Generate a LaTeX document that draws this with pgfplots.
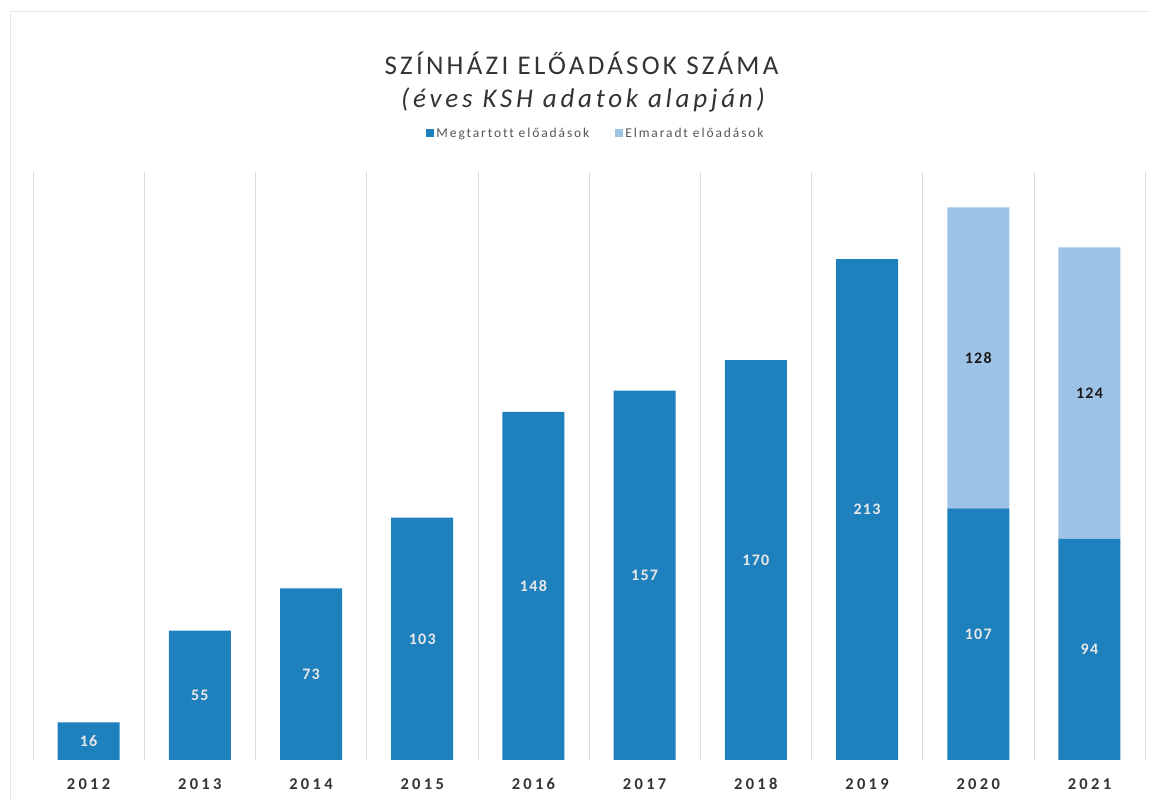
\documentclass[border=0pt]{standalone}
\usepackage{pgfplots}
\pgfplotsset{compat=1.18}
\usepackage{pgfplotstable}
\usepackage{fontspec}
\setmainfont{Carlito}
\newfontfamily\yearfont[LetterSpace=20]{Carlito}
\newfontfamily\titlefont[LetterSpace=12,Ligatures=NoCommon]{Carlito}
\newfontfamily\subfont[LetterSpace=14,Ligatures=NoCommon]{Carlito}
\newfontfamily\legfont[LetterSpace=14,Ligatures=NoCommon]{Carlito}
\newfontfamily\labfont[LetterSpace=8]{Carlito}
\definecolor{darkbar}{HTML}{1F80BE}
\definecolor{lightbar}{HTML}{9DC3E6}
\definecolor{txt}{HTML}{333333}
\definecolor{legtxt}{HTML}{555555}
\definecolor{labw}{HTML}{E8E8E8}

\pgfplotstableread{
x dark light darklab lightlab
0 16 0 16 {}
1 55 0 55 {}
2 73 0 73 {}
3 103 0 103 {}
4 148 0 148 {}
5 157 0 157 {}
6 170 0 170 {}
7 213 0 213 {}
8 107 128 107 128
9 94 124 94 124
}\data

\begin{document}
\begin{tikzpicture}
\useasboundingbox (-33pt,-40pt) rectangle (1116pt,760pt);
\draw[gray!18] (-23pt,-40pt) -- (-23pt,749pt) -- (1116pt,749pt);
\begin{axis}[
  at={(0pt,0pt)}, anchor=south west,
  scale only axis, width=1112pt, height=588pt,
  ybar stacked, bar width=62pt,
  xmin=-0.5, xmax=9.5, ymin=0, ymax=250,
  axis line style={draw=none},
  ytick=\empty,
  xtick={0,1,2,3,4,5,6,7,8,9},
  xticklabels={2012,2013,2014,2015,2016,2017,2018,2019,2020,2021},
  major tick length=0pt, minor tick length=0pt,
  xticklabel style={font=\yearfont\bfseries\fontsize{16.5}{18}\selectfont, text=txt, yshift=-15pt},
  minor xtick={-0.5,0.5,1.5,2.5,3.5,4.5,5.5,6.5,7.5,8.5,9.5},
  xminorgrids=true,
  minor grid style={gray!28, line width=0.6pt},
  legend columns=2,
  legend style={at={(axis description cs:0.5063,1.066)}, anchor=center, draw=none, fill=none,
    font=\legfont\fontsize{13.5}{15}\selectfont, text=legtxt,
    /tikz/every even column/.append style={column sep=24pt}},
  legend image code/.code={\fill[#1] (0pt,-4pt) rectangle (8pt,4pt);},
]
\addplot[fill=darkbar, draw=none,
  point meta=explicit symbolic,
  nodes near coords,
  every node near coord/.append style={anchor=center, text=labw,
    font=\labfont\bfseries\fontsize{16}{18}\selectfont}
] table[x=x, y=dark, meta=darklab]{\data};
\addlegendentry{Megtartott előadások}
\addplot[fill=lightbar, draw=none,
  point meta=explicit symbolic,
  nodes near coords,
  every node near coord/.append style={anchor=center, text=black!90,
    font=\labfont\bfseries\fontsize{16}{18}\selectfont}
] table[x=x, y=light, meta=lightlab]{\data};
\addlegendentry{Elmaradt előadások}
\draw[gray!35, line width=0.8pt] (axis cs:-0.5,0) -- (axis cs:9.5,0);
\end{axis}
\node[font=\titlefont\fontsize{27}{31}\selectfont, text=txt] at (548.5pt,697pt) {SZÍNHÁZI ELŐADÁSOK SZÁMA};
\node[font=\subfont\itshape\fontsize{27}{31}\selectfont, text=txt] at (550pt,660pt) {(éves KSH adatok alapján)};
\end{tikzpicture}
\end{document}
